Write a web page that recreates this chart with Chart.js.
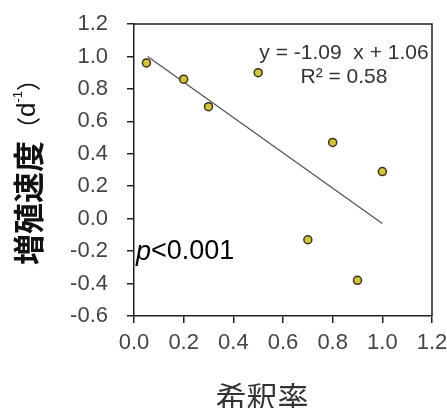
<!DOCTYPE html>
<html><head><meta charset="utf-8">
<script src="https://cdn.jsdelivr.net/npm/chart.js@4"></script>
<style>html,body{margin:0;padding:0;background:#fff}#wrap{width:447px;height:408px}</style>
</head><body><div id="wrap"><canvas id="c" width="447" height="408"></canvas></div>
<script>
const dilutionRate = [0.05, 0.2, 0.3, 0.5, 0.7, 0.8, 0.9, 1.0];
const growthRate = [0.96, 0.86, 0.69, 0.90, -0.13, 0.47, -0.38, 0.29];
const trendSlope = -1.09;
const trendIntercept = 1.06;
const trendRange = [0.055, 1.0];
const xTicks = [0, 0.2, 0.4, 0.6, 0.8, 1.0, 1.2];
const yTicks = [-0.6, -0.4, -0.2, 0.0, 0.2, 0.4, 0.6, 0.8, 1.0, 1.2];
const eqText = 'y = -1.09  x + 1.06';
const r2Text = 'R² = 0.58';
const pText = '<0.001';
const yTitle = '増殖速度';
const xTitle = '希釈率';

const points = dilutionRate.map((x, i) => ({x, y: growthRate[i]}));
const trend = trendRange.map(x => ({x, y: trendSlope * x + trendIntercept}));

const deco = {
  id: 'deco',
  afterDraw(chart) {
    const ctx = chart.ctx, a = chart.chartArea;
    ctx.save();
    ctx.strokeStyle = '#222'; ctx.lineWidth = 1.5;
    ctx.beginPath();
    ctx.moveTo(a.left, a.top); ctx.lineTo(a.right, a.top); ctx.lineTo(a.right, a.bottom);
    ctx.stroke();
    ctx.fillStyle = '#333';
    ctx.font = '21px "Liberation Sans", Arial, sans-serif';
    ctx.textAlign = 'center'; ctx.textBaseline = 'middle';
    ctx.fillText(eqText, 344, 53);
    ctx.fillText(r2Text, 344, 77);
    ctx.fillStyle = '#000';
    ctx.textAlign = 'left';
    ctx.font = 'italic 27px "Liberation Sans", Arial, sans-serif';
    ctx.fillText('p', 136, 252);
    const pw = ctx.measureText('p').width;
    ctx.font = '27px "Liberation Sans", Arial, sans-serif';
    ctx.fillText(pText, 136 + pw, 252);
    ctx.fillStyle = '#333';
    ctx.textAlign = 'center';
    ctx.font = '31px "Noto Sans CJK JP", sans-serif';
    ctx.fillText(xTitle, 262, 397);
    ctx.translate(28, 166);
    ctx.rotate(-Math.PI / 2);
    ctx.fillStyle = '#111';
    ctx.textAlign = 'left';
    const parts = [
      {t: yTitle, f: 'bold 31px "Noto Sans CJK JP", sans-serif', dy: 0},
      {t: '（', f: '24px "Noto Sans CJK JP", sans-serif', dy: 0},
      {t: 'd', f: '26px "Liberation Sans", Arial, sans-serif', dy: 0},
      {t: '-1', f: '13px "Liberation Sans", Arial, sans-serif', dy: -10},
      {t: '）', f: '24px "Noto Sans CJK JP", sans-serif', dy: 0}
    ];
    let total = 0;
    parts.forEach(p => { ctx.font = p.f; p.w = ctx.measureText(p.t).width; total += p.w; });
    let x = -total / 2;
    parts.forEach(p => { ctx.font = p.f; ctx.fillText(p.t, x, p.dy); x += p.w; });
    ctx.restore();
  }
};

new Chart(document.getElementById('c'), {
  type: 'scatter',
  data: {
    datasets: [
      {data: points, pointRadius: 4, pointHoverRadius: 4, backgroundColor: '#d6c43c', borderColor: '#3a3420', borderWidth: 1.5, order: 1},
      {type: 'line', data: trend, borderColor: '#555', borderWidth: 1.3, pointRadius: 0, fill: false, order: 2}
    ]
  },
  options: {
    responsive: false, animation: false, devicePixelRatio: 1,
    layout: {padding: {top: 24, right: 15, left: 0, bottom: 0}},
    plugins: {legend: {display: false}, tooltip: {enabled: false}},
    scales: {
      x: {
        type: 'linear', min: 0, max: 1.2,
        afterBuildTicks: s => { s.ticks = xTicks.map(v => ({value: v})); },
        afterFit: s => { s.height = 92; s.paddingLeft = 0; s.paddingRight = 0; },
        grid: {drawOnChartArea: false, drawTicks: true, tickLength: 7, color: '#222', lineWidth: 1.5},
        border: {display: true, color: '#222', width: 1.5},
        ticks: {color: '#444', padding: 7, maxRotation: 0, font: {family: '"Liberation Sans", Arial, sans-serif', size: 22}, callback: v => Number(v).toFixed(1)}
      },
      y: {
        type: 'linear', min: -0.6, max: 1.2,
        afterBuildTicks: s => { s.ticks = yTicks.map(v => ({value: v})); },
        afterFit: s => { s.width = 134; s.paddingTop = 0; s.paddingBottom = 0; },
        grid: {drawOnChartArea: false, drawTicks: true, tickLength: 7, color: '#222', lineWidth: 1.5},
        border: {display: true, color: '#222', width: 1.5},
        ticks: {color: '#444', padding: 19, font: {family: '"Liberation Sans", Arial, sans-serif', size: 22}, callback: v => Number(v).toFixed(1)}
      }
    }
  },
  plugins: [deco]
});
</script></body></html>
